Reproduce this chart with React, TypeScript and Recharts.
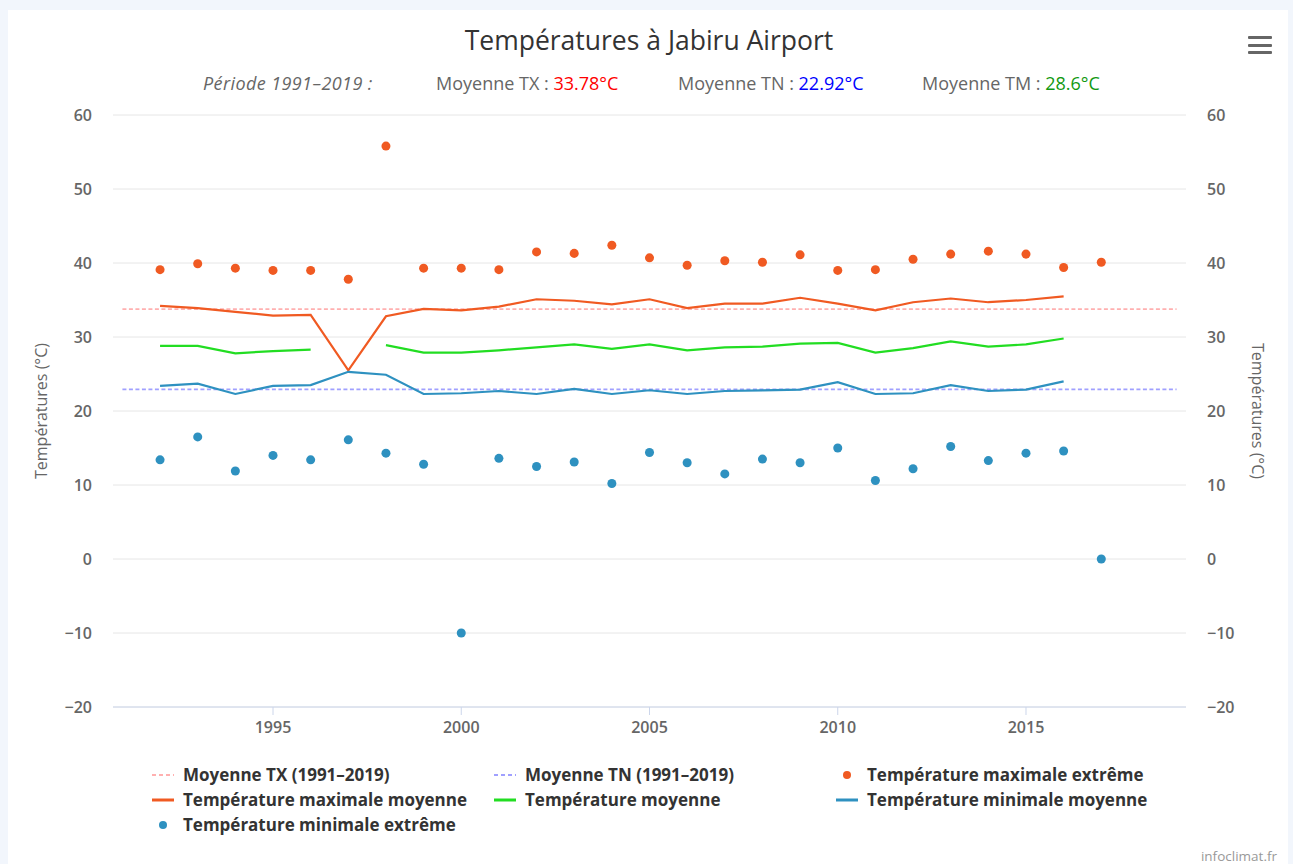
import React from 'react';
import {
  ComposedChart,
  Line,
  Scatter,
  XAxis,
  YAxis,
  CartesianGrid,
  ReferenceLine,
  Legend,
} from 'recharts';

// ---- data ----
const years = [
  1992, 1993, 1994, 1995, 1996, 1997, 1998, 1999, 2000, 2001, 2002, 2003, 2004,
  2005, 2006, 2007, 2008, 2009, 2010, 2011, 2012, 2013, 2014, 2015, 2016, 2017,
];
const txExtreme = [
  39.1, 39.9, 39.3, 39.0, 39.0, 37.8, 55.8, 39.3, 39.3, 39.1, 41.5, 41.3, 42.4,
  40.7, 39.7, 40.3, 40.1, 41.1, 39.0, 39.1, 40.5, 41.2, 41.6, 41.2, 39.4, 40.1,
];
const txMean = [
  34.2, 33.9, 33.4, 32.9, 33.0, 25.5, 32.8, 33.8, 33.6, 34.1, 35.1, 34.9, 34.4,
  35.1, 33.9, 34.5, 34.5, 35.3, 34.5, 33.6, 34.7, 35.2, 34.7, 35.0, 35.5, null,
];
const tmMean = [
  28.8, 28.8, 27.8, 28.1, 28.3, null, 28.9, 27.9, 27.9, 28.2, 28.6, 29.0, 28.4,
  29.0, 28.2, 28.6, 28.7, 29.1, 29.2, 27.9, 28.5, 29.4, 28.7, 29.0, 29.8, null,
];
const tnMean = [
  23.4, 23.7, 22.3, 23.4, 23.5, 25.3, 24.9, 22.3, 22.4, 22.7, 22.3, 23.0, 22.3,
  22.8, 22.3, 22.7, 22.8, 22.9, 23.9, 22.3, 22.4, 23.5, 22.7, 22.9, 24.0, null,
];
const tnExtreme = [
  13.4, 16.5, 11.9, 14.0, 13.4, 16.1, 14.3, 12.8, -10.0, 13.6, 12.5, 13.1, 10.2,
  14.4, 13.0, 11.5, 13.5, 13.0, 15.0, 10.6, 12.2, 15.2, 13.3, 14.3, 14.6, 0.0,
];
const avgTX = 33.78;
const avgTN = 22.92;
const avgTM = 28.6;
const periodStart = 1991;
const periodEnd = 2019;
const xTicks = [1995, 2000, 2005, 2010, 2015];
const yTicks = [-20, -10, 0, 10, 20, 30, 40, 50, 60];

const COLORS = {
  tx: '#f05a22',
  tm: '#22dd22',
  tn: '#2e91c0',
  avgTx: '#ffb0b0',
  avgTn: '#a0a0ff',
};

const legendItems = [
  { name: 'Moyenne TX (1991–2019)', color: COLORS.avgTx, kind: 'dash' },
  { name: 'Moyenne TN (1991–2019)', color: COLORS.avgTn, kind: 'dash' },
  { name: 'Température maximale extrême', color: COLORS.tx, kind: 'dot' },
  { name: 'Température maximale moyenne', color: COLORS.tx, kind: 'line' },
  { name: 'Température moyenne', color: COLORS.tm, kind: 'line' },
  { name: 'Température minimale moyenne', color: COLORS.tn, kind: 'line' },
  { name: 'Température minimale extrême', color: COLORS.tn, kind: 'dot' },
];

const table = years.map((year, i) => ({
  year,
  txExt: txExtreme[i],
  txMean: txMean[i],
  tm: tmMean[i],
  tnMean: tnMean[i],
  tnExt: tnExtreme[i],
}));

const FONT = '"Open Sans", "DejaVu Sans", sans-serif';

const LegendContent = () => (
  <div
    style={{
      display: 'grid',
      gridTemplateColumns: '342px 342px 342px',
      rowGap: 0,
      fontFamily: FONT,
      fontWeight: 700,
      fontSize: 17,
      lineHeight: '25px',
      color: '#333',
    }}
  >
    {legendItems.map((it) => (
      <div key={it.name} style={{ display: 'flex', alignItems: 'center', whiteSpace: 'nowrap' }}>
        <svg width={31} height={25} style={{ flex: 'none' }}>
          {it.kind === 'dot' ? (
            <circle cx={11} cy={13} r={4} fill={it.color} />
          ) : (
            <line
              x1={0}
              x2={22}
              y1={13}
              y2={13}
              stroke={it.color}
              strokeWidth={it.kind === 'dash' ? 2 : 3}
              strokeDasharray={it.kind === 'dash' ? '4 3' : undefined}
            />
          )}
        </svg>
        <span>{it.name}</span>
      </div>
    ))}
  </div>
);

const tickStyle = { fill: '#666', fontSize: 16, fontWeight: 600, fontFamily: FONT };
const fmtTick = (v: number) => String(v).replace('-', '−');

export default function App() {
  return (
    <div
      style={{
        position: 'absolute',
        left: 0,
        top: 0,
        width: 1293,
        height: 864,
        background: '#f2f6fc',
        overflow: 'hidden',
        fontFamily: FONT,
      }}
    >
      <div style={{ position: 'absolute', left: 8, top: 10, width: 1280, height: 860, background: '#fff' }} />
      <div
        style={{
          position: 'absolute',
          left: 0,
          top: 19,
          width: 1298,
          textAlign: 'center',
          fontSize: 26.5,
          lineHeight: '42px',
          color: '#333',
        }}
      >
        Températures à Jabiru Airport
      </div>
      <div style={{ position: 'absolute', top: 71, left: 0, width: 1293, fontSize: 18, lineHeight: '24px', color: '#666' }}>
        <span style={{ position: 'absolute', left: 203, fontStyle: 'italic', whiteSpace: 'nowrap', letterSpacing: 0.4 }}>
          Période 1991–2019 :
        </span>
        <span style={{ position: 'absolute', left: 436, whiteSpace: 'nowrap' }}>
          Moyenne TX : <span style={{ color: '#ff0000' }}>{avgTX}°C</span>
        </span>
        <span style={{ position: 'absolute', left: 678, whiteSpace: 'nowrap' }}>
          Moyenne TN : <span style={{ color: '#0000ff' }}>{avgTN}°C</span>
        </span>
        <span style={{ position: 'absolute', left: 922, whiteSpace: 'nowrap' }}>
          Moyenne TM : <span style={{ color: '#119911' }}>{avgTM}°C</span>
        </span>
      </div>
      <div style={{ position: 'absolute', left: 1248, top: 36, width: 24 }}>
        {[0, 1, 2].map((k) => (
          <div key={k} style={{ height: 3, background: '#666', marginBottom: k < 2 ? 4.5 : 0, borderRadius: 1 }} />
        ))}
      </div>
      <div
        style={{
          position: 'absolute',
          right: 16,
          top: 846,
          fontSize: 13.5,
          lineHeight: '20px',
          color: '#999',
        }}
      >
        infoclimat.fr
      </div>
      <div style={{ position: 'absolute', left: 0, top: 0 }}>
        <ComposedChart
          width={1293}
          height={864}
          data={table}
          margin={{ top: 115, left: 63, right: 57, bottom: 127 }}
        >
          <CartesianGrid yAxisId="left" horizontal vertical={false} stroke="#e6e6e6" />
          <XAxis
            dataKey="year"
            type="number"
            domain={[1990.75, 2019.25]}
            ticks={xTicks}
            allowDataOverflow
            height={30}
            stroke="#ccd6eb"
            tickLine={{ stroke: '#ccd6eb' }}
            tickSize={8}
            tickMargin={7}
            tick={tickStyle}
          />
          <YAxis
            yAxisId="left"
            domain={[-20, 60]}
            ticks={yTicks}
            allowDataOverflow
            width={50}
            axisLine={false}
            tickLine={false}
            tickSize={0}
            tickMargin={21}
            tick={tickStyle}
            tickFormatter={fmtTick}
            label={{
              content: (props: any) => {
                const vb = props.viewBox || { x: 63, y: 115, width: 50, height: 592 };
                const cx = vb.x - 22;
                const cy = vb.y + vb.height / 2;
                return (
                  <text
                    x={cx}
                    y={cy}
                    transform={`rotate(-90 ${cx} ${cy})`}
                    textAnchor="middle"
                    dominantBaseline="central"
                    fill="#666"
                    fontSize={16}
                    fontFamily={FONT}
                  >
                    Températures (°C)
                  </text>
                );
              },
            }}
          />
          <YAxis
            yAxisId="right"
            orientation="right"
            domain={[-20, 60]}
            ticks={yTicks}
            allowDataOverflow
            width={50}
            axisLine={false}
            tickLine={false}
            tickSize={0}
            tickMargin={21}
            tick={tickStyle}
            tickFormatter={fmtTick}
            label={{
              content: (props: any) => {
                const vb = props.viewBox || { x: 1186, y: 115, width: 50, height: 592 };
                const cx = vb.x + 72;
                const cy = vb.y + vb.height / 2;
                return (
                  <text
                    x={cx}
                    y={cy}
                    transform={`rotate(90 ${cx} ${cy})`}
                    textAnchor="middle"
                    dominantBaseline="central"
                    fill="#666"
                    fontSize={16}
                    fontFamily={FONT}
                  >
                    Températures (°C)
                  </text>
                );
              },
            }}
          />
          <ReferenceLine
            yAxisId="left"
            segment={[
              { x: periodStart, y: avgTX },
              { x: periodEnd, y: avgTX },
            ]}
            stroke={COLORS.avgTx}
            strokeWidth={1.8}
            strokeDasharray="4 2.5"
            ifOverflow="visible"
          />
          <ReferenceLine
            yAxisId="left"
            segment={[
              { x: periodStart, y: avgTN },
              { x: periodEnd, y: avgTN },
            ]}
            stroke={COLORS.avgTn}
            strokeWidth={1.8}
            strokeDasharray="4 2.5"
            ifOverflow="visible"
          />
          <Scatter
            yAxisId="left"
            dataKey="txExt"
            name="Température maximale extrême"
            fill={COLORS.tx}
            isAnimationActive={false}
          />
          <Line
            yAxisId="left"
            dataKey="txMean"
            name="Température maximale moyenne"
            type="linear"
            stroke={COLORS.tx}
            strokeWidth={2.2}
            dot={false}
            activeDot={false}
            connectNulls={false}
            isAnimationActive={false}
          />
          <Line
            yAxisId="left"
            dataKey="tm"
            name="Température moyenne"
            type="linear"
            stroke={COLORS.tm}
            strokeWidth={2.2}
            dot={false}
            activeDot={false}
            connectNulls={false}
            isAnimationActive={false}
          />
          <Line
            yAxisId="left"
            dataKey="tnMean"
            name="Température minimale moyenne"
            type="linear"
            stroke={COLORS.tn}
            strokeWidth={2.2}
            dot={false}
            activeDot={false}
            connectNulls={false}
            isAnimationActive={false}
          />
          <Scatter
            yAxisId="left"
            dataKey="tnExt"
            name="Température minimale extrême"
            fill={COLORS.tn}
            isAnimationActive={false}
          />
          <Legend
            layout="horizontal"
            verticalAlign="middle"
            align="center"
            content={<LegendContent />}
            wrapperStyle={{ left: 152, top: 762, width: 1100, height: 80 }}
          />
        </ComposedChart>
      </div>
    </div>
  );
}
